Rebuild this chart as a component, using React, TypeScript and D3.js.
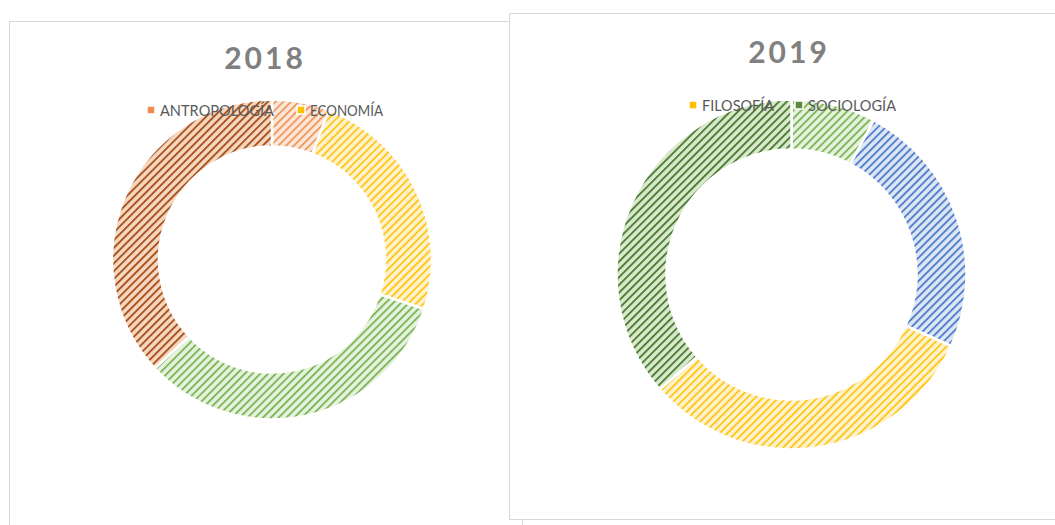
import React from "react";
import * as d3 from "d3";

// 2018 donut (clockwise from 12 o'clock)
const cats2018 = ["ANTROPOLOGÍA", "ECONOMÍA", "FILOSOFÍA", "SOCIOLOGÍA"];
const vals2018 = [5.8, 24.2, 33.1, 36.9];
const legend2018 = ["ANTROPOLOGÍA", "ECONOMÍA"];

// 2019 donut
const cats2019 = ["ANTROPOLOGÍA", "ECONOMÍA", "FILOSOFÍA", "SOCIOLOGÍA"];
const vals2019 = [7.8, 23.9, 31.9, 36.4];
const legend2019 = ["FILOSOFÍA", "SOCIOLOGÍA"];

type Pat = { id: string; bg: string; fg: string };
const pats2018: Pat[] = [
  { id: "p18a", bg: "#fce7d8", fg: "#f09a62" },
  { id: "p18b", bg: "#fff3cf", fg: "#ffc81f" },
  { id: "p18c", bg: "#e6f2de", fg: "#7fb85a" },
  { id: "p18d", bg: "#f6d7c0", fg: "#a9541f" },
];
const pats2019: Pat[] = [
  { id: "p19a", bg: "#e6f2de", fg: "#7fb85a" },
  { id: "p19b", bg: "#dde6f5", fg: "#5580cc" },
  { id: "p19c", bg: "#fff3cf", fg: "#ffc81f" },
  { id: "p19d", bg: "#d8e9ce", fg: "#507e34" },
];
const legendColors2018 = ["#ef8b4c", "#ffc000"];
const legendColors2019 = ["#ffc000", "#5a8a3c"];

const FONT = "Lato, 'Open Sans', sans-serif";

function Patterns({ pats }: { pats: Pat[] }) {
  return (
    <>
      {pats.map((p) => (
        <pattern
          key={p.id}
          id={p.id}
          width={5.5}
          height={5.5}
          patternUnits="userSpaceOnUse"
          patternTransform="rotate(45)"
        >
          <rect width={5.5} height={5.5} fill={p.bg} />
          <rect width={1.9} height={5.5} fill={p.fg} />
        </pattern>
      ))}
    </>
  );
}

function Donut({
  cx,
  cy,
  outer,
  inner,
  values,
  cats,
  pats,
}: {
  cx: number;
  cy: number;
  outer: number;
  inner: number;
  values: number[];
  cats: string[];
  pats: Pat[];
}) {
  const pie = d3.pie<number>().sort(null).value((d) => d);
  const arcs = pie(values);
  const arc = d3.arc<d3.PieArcDatum<number>>().innerRadius(inner).outerRadius(outer);
  return (
    <g transform={`translate(${cx},${cy})`}>
      {arcs.map((a, i) => (
        <path
          key={cats[i]}
          d={arc(a) || ""}
          fill={`url(#${pats[i].id})`}
          stroke="#ffffff"
          strokeWidth={2.5}
        />
      ))}
    </g>
  );
}

function Legend({
  items,
  colors,
  x,
  y,
  gap,
  widths,
}: {
  items: string[];
  colors: string[];
  x: number;
  y: number;
  gap: number;
  widths: number[];
}) {
  let cur = x;
  return (
    <g>
      {items.map((t, i) => {
        const gx = cur;
        cur += widths[i] + gap;
        return (
          <g key={t}>
            <rect x={gx - 4} y={y - 4} width={8} height={8} fill={colors[i]} stroke="#fff" strokeWidth={1.5} />
            <text
              x={gx + 9}
              y={y + 5.5}
              fontFamily={FONT}
              fontSize={15}
              fill="#595959"
              textLength={widths[i] - 9}
              lengthAdjust="spacingAndGlyphs"
            >
              {t}
            </text>
          </g>
        );
      })}
    </g>
  );
}

export default function App() {
  return (
    <svg
      width={1055}
      height={525}
      style={{ position: "absolute", left: 0, top: 0, background: "#fff" }}
    >
      <defs>
        <Patterns pats={pats2018} />
        <Patterns pats={pats2019} />
      </defs>
      {/* left panel */}
      <rect x={9.5} y={21.5} width={513} height={520} fill="#fff" stroke="#d9d9d9" strokeWidth={1} />
      <text
        x={265}
        y={69}
        textAnchor="middle"
        fontFamily={FONT}
        fontWeight={700}
        fontSize={30}
        letterSpacing={3}
        fill="#808080"
      >
        2018
      </text>
      <Donut cx={272} cy={259.5} outer={160} inner={113} values={vals2018} cats={cats2018} pats={pats2018} />
      <Legend items={legend2018} colors={legendColors2018} x={151} y={110} gap={27} widths={[123, 82]} />

      {/* right panel */}
      <rect x={509.5} y={13.5} width={560} height={506} fill="#fff" stroke="#d9d9d9" strokeWidth={1} />
      <text
        x={789}
        y={63}
        textAnchor="middle"
        fontFamily={FONT}
        fontWeight={700}
        fontSize={30}
        letterSpacing={3}
        fill="#808080"
      >
        2019
      </text>
      <Donut cx={791.5} cy={274.5} outer={175} inner={125} values={vals2019} cats={cats2019} pats={pats2019} />
      <Legend items={legend2019} colors={legendColors2019} x={693} y={105} gap={25} widths={[81, 97]} />
    </svg>
  );
}
